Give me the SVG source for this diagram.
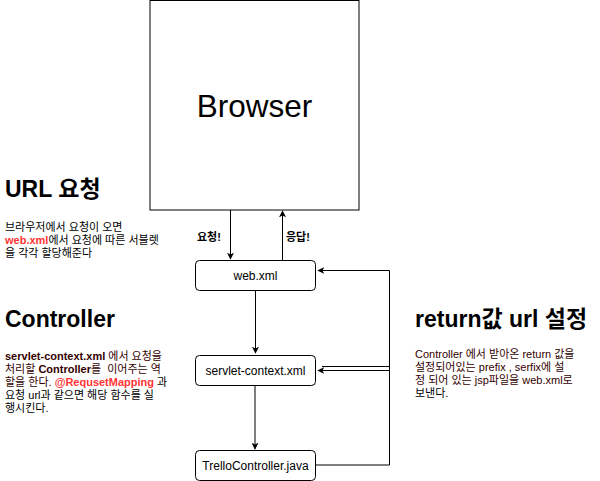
<svg xmlns="http://www.w3.org/2000/svg" width="600" height="481" viewBox="0 0 600 481">
<style>
.t{font-family:"Liberation Sans","Noto Sans CJK KR",sans-serif;}
.box{fill:#fff;stroke:#000;stroke-width:1;}
.lbl{font-size:12px;fill:#000;text-anchor:middle;}
.h{font-size:23px;font-weight:bold;fill:#000;}
.p{font-size:11px;}
.ln{fill:none;stroke:#000;stroke-width:1;}
.red{fill:#FF3333;}
.mar{fill:#330000;}
.b{font-weight:bold;}
</style>
<defs>
<marker id="arr" viewBox="0 0 10 10" refX="9" refY="5" markerWidth="7" markerHeight="7" markerUnits="userSpaceOnUse" orient="auto">
<path d="M0,0 L10,5 L0,10 L2.5,5 Z" fill="#000"/>
</marker>
</defs>
<rect width="600" height="481" fill="#fff"/>
<g id="browser">
<rect class="box" x="150" y="0.5" width="209" height="209.5"/>
<text class="t" x="254.5" y="117" font-size="31.5" text-anchor="middle">Browser</text>
</g>
<g id="connectors">
<path class="ln" d="M230.5,210 V259" marker-end="url(#arr)"/>
<path class="ln" d="M282.5,260 V211" marker-end="url(#arr)"/>
<path class="ln" d="M255.5,291 V353" marker-end="url(#arr)"/>
<path class="ln" d="M255,385 V449" marker-end="url(#arr)"/>
<path class="ln" d="M315,465 H389.5 V270.5 H318" marker-end="url(#arr)"/>
<path class="ln" d="M389.5,366.5 H322"/>
<path class="ln" d="M389.5,370.5 H318" marker-end="url(#arr)"/>
<text class="t b" x="197" y="241" font-size="11">요청!</text>
<text class="t b" x="286" y="241" font-size="11">응답!</text>
</g>
<g id="web-xml">
<rect class="box" x="195.5" y="260.5" width="120" height="30" rx="4"/>
<text class="t lbl" x="255.5" y="280">web.xml</text>
</g>
<g id="servlet-context">
<rect class="box" x="195.5" y="355.5" width="120" height="30" rx="4"/>
<text class="t lbl" x="255.5" y="375">servlet-context.xml</text>
</g>
<g id="trello-controller">
<rect class="box" x="195.5" y="450.5" width="120" height="30" rx="4"/>
<text class="t lbl" x="255.5" y="470">TrelloController.java</text>
</g>
<g id="url-note">
<text class="t h" x="5" y="197">URL 요청</text>
<text class="t p" x="5" y="231">브라우저에서 요청이 오면</text>
<text class="t p" x="5" y="244"><tspan class="red b">web.xml</tspan>에서 요청에 따른 서블렛</text>
<text class="t p" x="5" y="257">을 각각 할당해준다</text>
</g>
<g id="controller-note">
<text class="t h" x="5" y="327">Controller</text>
<text class="t p mar" x="5" y="360"><tspan class="b">servlet-context.xml</tspan> 에서 요청을</text>
<text class="t p mar" x="5" y="373">처리할 <tspan class="b">Controller</tspan>를&#160; 이어주는 역</text>
<text class="t p mar" x="5" y="386">할을 한다. <tspan class="red b">@RequsetMapping</tspan> <tspan fill="#000">과</tspan></text>
<text class="t p" x="5" y="399">요청 url과 같으면 해당 함수를 실</text>
<text class="t p" x="5" y="412">행시킨다.</text>
</g>
<g id="return-note">
<text class="t h" x="415" y="327">return값 url 설정</text>
<text class="t p mar" x="415" y="358">Controller 에서 받아온 return 값을</text>
<text class="t p mar" x="415" y="371">설정되어있는 prefix , serfix에 설</text>
<text class="t p mar" x="415" y="384">정 되어 있는 jsp파일을 web.xml로</text>
<text class="t p" x="415" y="397">보낸다.</text>
</g>
</svg>
